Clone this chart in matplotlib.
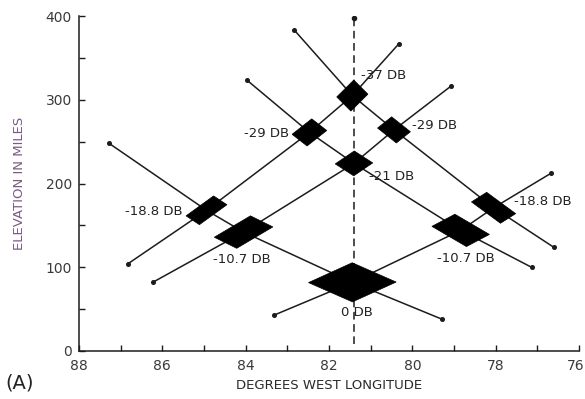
import numpy as np
import matplotlib
matplotlib.use("Agg")
import matplotlib.pyplot as plt
from matplotlib.patches import Polygon
from matplotlib.transforms import ScaledTranslation

# Lines rising toward the east (longitude in degrees west, elevation in miles)
rise_lon = [
    [86.83, 84.94, 82.47, 81.44, 80.32],
    [86.23, 84.05, 81.40, 80.44, 79.08],
    [83.31, 81.44, 78.84, 78.05, 76.68],
]
rise_elev = [
    [104, 168, 261, 305, 367],
    [82, 142, 224, 264, 316],
    [43, 82, 144, 171, 212],
]

# Lines falling toward the east
fall_lon = [
    [87.28, 84.94, 84.05, 81.44, 79.29],
    [83.96, 82.47, 81.40, 78.84, 77.14],
    [82.83, 81.44, 80.44, 78.05, 76.61],
]
fall_elev = [
    [248, 168, 142, 82, 38],
    [323, 261, 224, 144, 100],
    [383, 305, 264, 171, 124],
]

# Relative level at each crossing: row = rising line, column = falling line
level_db = [
    [-18.8, -29, -37],
    [-10.7, -21, -29],
    [0, -10.7, -18.8],
]

center_lon = 81.4
x_ticks = [88, 86, 84, 82, 80, 78, 76]
y_ticks = [0, 100, 200, 300, 400]

# Drawing style: half-lengths (pixels) of each crossing marker along the
# rising and falling lines, and label offsets (pixels) with alignment
half_rise = [[17, 12.5, 12], [21, 11.5, 9], [24, 13, 9]]
half_fall = [[8, 9.5, 10], [12.5, 11, 12], [24, 20, 18]]
label_off = [
    [(-24, -1, "right"), (-20, -1, "right"), (9, 20, "left")],
    [(-2, -27, "center"), (15, -13, "left"), (18, 4, "left")],
    [(5, -30, "center"), (5, -28, "center"), (20, 6, "left")],
]

ink = "#1c1c1c"
plt.rcParams["font.family"] = ["DejaVu Sans"]

fig = plt.figure(figsize=(5.85, 3.99), dpi=100)
ax = fig.add_axes([79 / 585, 1 - 351 / 399, 500 / 585, 335 / 399])
ax.set_xlim(88, 76)
ax.set_ylim(0, 400)

for s in ("top", "right"):
    ax.spines[s].set_visible(False)
for s in ("left", "bottom"):
    ax.spines[s].set_color(ink)
    ax.spines[s].set_linewidth(1.1)

ax.set_xticks(x_ticks)
ax.set_xticklabels([str(v) for v in x_ticks])
ax.set_xticks(np.arange(76, 89, 1), minor=True)
ax.set_yticks(y_ticks)
ax.set_yticklabels([str(v) for v in y_ticks])
ax.set_yticks(np.arange(0, 401, 50), minor=True)
ax.tick_params(which="both", direction="in", length=4, width=1, color=ink,
               labelsize=10, labelcolor="#3a3a3a")
ax.tick_params(axis="x", pad=6)
ax.tick_params(axis="y", pad=5)

# Keep the last longitude label inside the figure edge
last = ax.get_xticklabels()[-1]
last.set_horizontalalignment("right")
last.set_transform(last.get_transform() + ScaledTranslation(5 / 100, 0, fig.dpi_scale_trans))

ax.set_xlabel("DEGREES WEST LONGITUDE", fontsize=9.5, color="#2a2a2a", labelpad=4)
ax.set_ylabel("ELEVATION IN MILES", fontsize=9.5, color="#7b5b86")
ax.yaxis.set_label_coords(-0.105, 0.5)

# Vertical dashed reference line
ax.plot([center_lon, center_lon], [8, 396], ls=(0, (5, 3)), color=ink, lw=1.1)
ax.plot([center_lon], [398], marker="o", ms=3, color=ink)

# Curves with small end dots
for lons, elevs in zip(rise_lon + fall_lon, rise_elev + fall_elev):
    ax.plot(lons, elevs, color=ink, lw=1.1, solid_capstyle="round")
    ax.plot([lons[0], lons[-1]], [elevs[0], elevs[-1]], "o", ms=2.6, color=ink)

# Crossing markers: parallelograms with sides along the two crossing lines
to_px = ax.transData
to_data = ax.transData.inverted()


def unit_dir(lons, elevs, k):
    p = to_px.transform([(lons[k - 1], elevs[k - 1]), (lons[k + 1], elevs[k + 1])])
    d = p[1] - p[0]
    return d / np.hypot(*d)


for i in range(3):
    for j in range(3):
        lon = rise_lon[i][1 + j]
        elev = rise_elev[i][1 + j]
        c = to_px.transform((lon, elev))
        u = unit_dir(rise_lon[i], rise_elev[i], 1 + j)
        d = unit_dir(fall_lon[j], fall_elev[j], 1 + i)
        a = half_rise[i][j]
        b = half_fall[i][j]
        verts_px = [c + a * u + b * d, c + a * u - b * d,
                    c - a * u - b * d, c - a * u + b * d]
        verts = to_data.transform(verts_px)
        ax.add_patch(Polygon(verts, closed=True, facecolor="black",
                             edgecolor="black", lw=0.5, zorder=5))

        db = level_db[i][j]
        txt = "0 DB" if db == 0 else f"-{abs(db):g} DB"
        dx, dy, ha = label_off[i][j]
        ax.annotate(txt, (lon, elev), xytext=(dx, dy), textcoords="offset pixels",
                    ha=ha, va="center", fontsize=9.5, color="#222222",
                    annotation_clip=False, zorder=6)

fig.text(5 / 585, 1 - 383 / 399, "(A)", fontsize=14, color="#222222",
         ha="left", va="center")

fig.savefig("out.png", dpi=100)
